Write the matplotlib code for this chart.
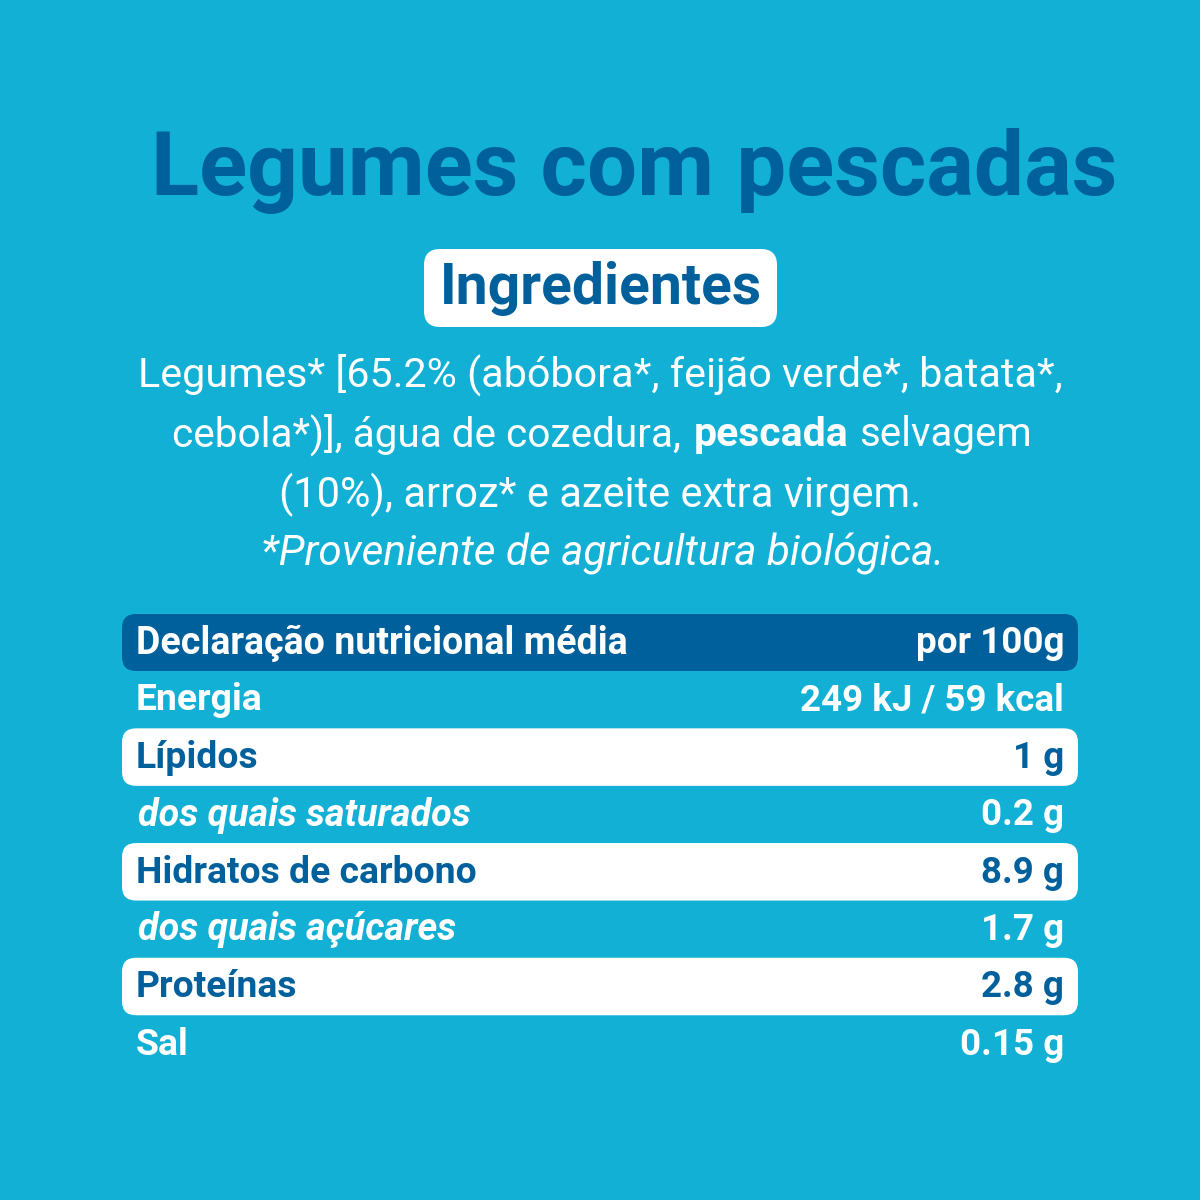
import matplotlib
matplotlib.use("Agg")
import matplotlib.pyplot as plt
from matplotlib.patches import FancyBboxPatch

BG = "#13b0d5"
DARK = "#00609c"
WHITE = "#ffffff"
FONT = "Roboto"

title = "Legumes com pescadas"
badge = "Ingredientes"
table_header = ["Declaração nutricional média", "por 100g"]
nutrients = ["Energia", "Lípidos", "dos quais saturados", "Hidratos de carbono",
             "dos quais açúcares", "Proteínas", "Sal"]
amounts = ["249 kJ / 59 kcal", "1 g", "0.2 g", "8.9 g", "1.7 g", "2.8 g", "0.15 g"]
italic_rows = [2, 4]
white_rows = [1, 3, 5]

fig = plt.figure(figsize=(12, 12), dpi=100, facecolor=BG)
ax = fig.add_axes([0, 0, 1, 1])
ax.set_xlim(0, 1200)
ax.set_ylim(1200, 0)
ax.axis("off")


def band(x0, x1, y0, y1, color, r=14):
    ax.add_patch(FancyBboxPatch((x0 + r, y0 + r), x1 - x0 - 2*r, y1 - y0 - 2*r,
                                boxstyle=f"round,pad={r},rounding_size={r}",
                                fc=color, ec="none"))


ax.text(634, 171, title, color=DARK, fontsize=64, fontweight="bold", family=FONT,
        ha="center", va="center")

band(424, 777, 249, 327, WHITE, r=16)
ax.text(601, 289, badge, color=DARK, fontsize=41, fontweight="bold", family=FONT,
        ha="center", va="center")

# ingredient paragraph
PSIZE = 29.7
ax.text(600, 375, "Legumes* [65.2% (abóbora*, feijão verde*, batata*,", color=WHITE,
        fontsize=PSIZE, family=FONT, ha="center", va="center")
ax.text(172, 435, "cebola*)], água de cozedura,", color=WHITE, fontsize=29.2,
        family=FONT, ha="left", va="center")
ax.text(694, 435, "pescada", color=WHITE, fontsize=29.4, fontweight="bold", family=FONT,
        ha="left", va="center")
ax.text(859, 435, "selvagem", color=WHITE, fontsize=29, family=FONT, ha="left", va="center")
ax.text(600, 495, "(10%), arroz* e azeite extra virgem.", color=WHITE, fontsize=30,
        family=FONT, ha="center", va="center")
ax.text(603, 554, "*Proveniente de agricultura biológica.", color=WHITE, fontsize=30.4,
        family=FONT, style="italic", ha="center", va="center")

# nutrition table
band(122, 1078, 614, 671, DARK)
ax.text(136, 643, table_header[0], color=WHITE, fontsize=27, fontweight="bold",
        family=FONT, ha="left", va="center")
ax.text(1064, 643, table_header[1], color=WHITE, fontsize=26.5, fontweight="bold",
        family=FONT, ha="right", va="center")

row_h = 57.35
for i, (name, amount) in enumerate(zip(nutrients, amounts)):
    yc = 699.5 + i * row_h
    if i in white_rows:
        band(122, 1078, yc - 28.5, yc + 29, WHITE)
    col = DARK if i in white_rows else WHITE
    ital = i in italic_rows
    ax.text(138 if ital else 136, yc + 1, name, color=col, fontsize=27.2 if ital else 26.8,
            fontweight="bold", style="italic" if ital else "normal",
            family=FONT, ha="left", va="center")
    ax.text(1064, yc + 1, amount, color=col, fontsize=26.5, fontweight="bold",
            family=FONT, ha="right", va="center")

fig.savefig("out.png", dpi=100, facecolor=BG)
